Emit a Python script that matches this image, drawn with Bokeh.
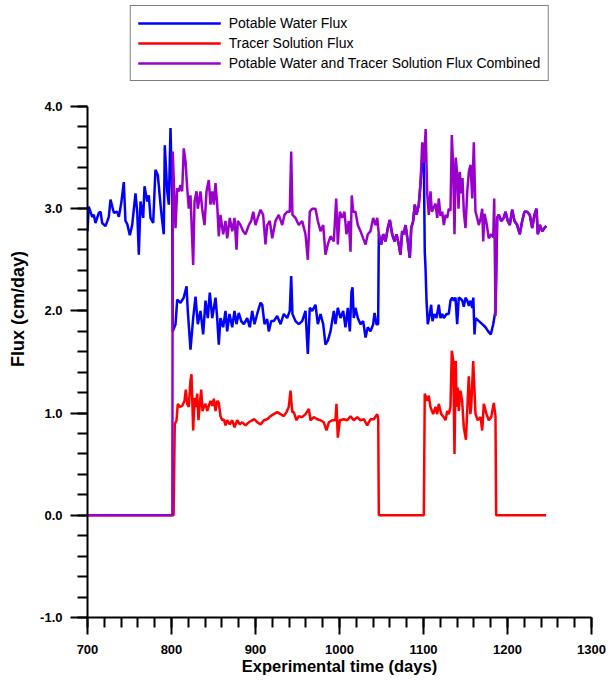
from bokeh.plotting import figure
from bokeh.models import (Range1d, SingleIntervalTicker, PrintfTickFormatter,
                          Legend, LegendItem, ColumnDataSource)
from bokeh.embed import file_html
from bokeh.resources import INLINE

# ---------------- data ----------------
# Potable water flux, own readings 700-1046 d
blue_a_days = [700, 701.5, 705.6, 707.5, 709.5, 713.5, 715.5, 717.5, 721.4, 725.4, 727.4,
               731.3, 735.4, 737.3, 740.1, 743.2, 745.2, 747.3, 750.4, 753.2, 757.1,
               759.2, 761.1, 763.1, 766.3, 767.9, 771.1, 773, 775, 778.2, 780.9, 783.7,
               786.9, 788.9, 790.8, 792, 794.9, 796.8, 798.8, 800.8,
               801.5, 804.8, 806.8, 810.7, 814.6, 817.9, 819.4, 822.6, 825.8, 828.6,
               831.3, 834.5, 837.7, 840.5, 843.2, 845.6, 848.5, 852.4, 854.4, 856.3,
               858.3, 861.5, 864.3, 866.3, 869, 872.3, 875, 877.4, 880.1, 883, 886.1,
               890.1, 893.2, 896.1, 898.8, 902, 906, 908, 910.7, 913.9, 915.8, 918.7,
               921.8, 925.8, 929.8, 933.7, 937.7, 940.8, 942.5, 944, 947.6, 951.5,
               955.6, 959.5, 962.3, 964.6, 967.5, 971.4, 974.2, 977.4, 980.6, 983.3,
               986.1, 989.3, 993.2, 995.2, 998, 1001.2, 1004.4, 1007.1, 1009.9, 1012.3,
               1014.3, 1015.5, 1017, 1019, 1021.8, 1025, 1028.2, 1031, 1033.7, 1036.9,
               1040.1, 1041.7, 1044, 1046]
blue_a_vals = [2.78, 3.02, 2.92, 2.94, 2.86, 2.96, 2.97, 2.86, 2.83, 2.92, 3.09,
               2.96, 2.97, 2.92, 3.05, 3.26, 2.88, 2.85, 2.74, 2.84, 3.15,
               2.97, 2.55, 3.07, 2.91, 3.22, 3.07, 3.13, 2.91, 2.86, 3.38, 3.33,
               3.04, 2.88, 2.75, 3.62, 3.17, 3.04, 3.79, 3.14,
               1.80, 1.87, 2.11, 2.08, 2.13, 2.24, 2.00, 1.62, 1.93, 2.14,
               1.87, 2.00, 1.77, 2.10, 1.93, 2.18, 1.93, 2.13, 1.93, 1.67,
               1.93, 1.84, 2.00, 1.80, 1.97, 1.84, 2.00, 1.87, 1.98, 1.90, 1.87,
               1.93, 1.84, 2.00, 1.87, 1.97, 2.08, 2.06, 1.87, 1.92, 1.80, 1.90,
               1.90, 1.95, 1.87, 1.97, 1.93, 2.00, 2.34, 1.97, 1.90, 1.87,
               1.90, 2.00, 1.58, 2.03, 2.00, 2.06, 1.87, 1.97, 1.87, 1.67,
               1.71, 1.80, 2.00, 1.87, 2.03, 1.93, 2.00, 1.84, 2.03, 1.80,
               2.19, 2.23, 1.93, 2.03, 1.93, 1.87, 1.90, 1.74, 1.84, 1.80,
               1.87, 1.98, 1.87, 1.87]
# Potable water flux, own readings 1098-1186 d
blue_b_days = [1098.5, 1100.4, 1101.5, 1102.4, 1103.6, 1105.1, 1107.5, 1109.1, 1110.7,
               1113.1, 1115.5, 1118.2, 1120.2, 1122.3, 1124.2, 1127.4, 1130.1, 1132.1,
               1134.2, 1136.1, 1138.1, 1140.1, 1142, 1144.1, 1146.2, 1148, 1150, 1152.1,
               1154, 1156, 1158.1, 1159.3, 1160.7, 1162, 1166, 1170, 1173.8, 1177,
               1180.1, 1183, 1185, 1185.7]
blue_b_vals = [3.49, 3.46, 2.58, 2.42, 2.10, 1.87, 1.97, 2.06, 1.90,
               1.97, 1.93, 2.06, 1.93, 1.97, 1.93, 1.97, 1.97, 2.10,
               2.13, 2.10, 2.13, 1.87, 2.13, 2.12, 2.10, 2.04, 2.13, 2.10,
               2.05, 2.10, 2.03, 2.13, 1.77, 1.93, 1.90, 1.87, 1.84, 1.80,
               1.77, 1.87, 1.97, 2.00]

# Tracer solution flux
red_days = [700, 802.5, 803.9, 806, 807.5, 809.9, 812.7, 815.5, 817, 818.7, 820.6,
            822.6, 823.8, 825.8, 827.4, 829, 830.6, 832.1, 833.7, 835.4, 836.9,
            838.5, 840.5, 842.5, 844.4, 846.4, 848.5, 850.4, 852.4, 854.4, 856.3,
            858.3, 860.4, 862.3, 864.3, 866.3, 869.4, 872.3, 875, 878.2, 881.3,
            884.2, 888.1, 892, 896.1, 898.8, 902, 906, 910, 913.9, 917.9, 921.8,
            925.8, 929.8, 933.7, 936.9, 939.6, 941.7, 943.7, 945.6, 948.8, 951.5,
            955.6, 959.5, 963.5, 965.5, 969.4, 973.5, 977.4, 981.3, 984.5, 987.3,
            991.3, 995.2, 996.4, 998, 1000.4, 1005.1, 1009.2, 1013.1, 1017, 1021.1,
            1025, 1028.9, 1033, 1036.9, 1040.8, 1044.9, 1046.1, 1046.8,
            1100.4, 1101.5, 1104.4, 1106.3, 1108.3, 1111.5, 1114.3, 1116.3, 1118.2,
            1121.1, 1124.2, 1126.2, 1128.2, 1130.1, 1132.1, 1133.7, 1135.4, 1136.9,
            1138.4, 1139.3, 1140.8, 1142, 1144, 1146, 1148, 1150.5, 1153.9, 1155.8,
            1156.8, 1159.2, 1161.9, 1164.6, 1167.9, 1169.9, 1171.8, 1175, 1177.7,
            1180.6, 1183.7, 1185.7, 1186.5, 1246]
red_vals = [0, 0, 0.89, 0.93, 1.09, 1.06, 1.07, 1.12, 1.23, 1.09, 1.06,
            1.32, 1.38, 0.83, 1.15, 1.06, 1.19, 0.93, 1.09, 1.23, 1.02,
            1.06, 1.09, 1.02, 1.07, 1.12, 1.07, 1.14, 1.02, 1.12, 1.10,
            0.97, 0.93, 0.94, 0.88, 0.93, 0.89, 0.93, 0.86, 0.93, 0.89,
            0.91, 0.88, 0.91, 0.93, 0.94, 0.91, 0.89, 0.93, 0.94, 0.97, 0.99,
            1.01, 0.99, 0.97, 1.01, 1.06, 1.22, 1.01, 1.01, 0.93, 0.97,
            0.96, 0.99, 1.04, 0.93, 0.96, 0.94, 0.93, 0.91, 0.83, 0.91,
            0.93, 0.93, 1.09, 0.76, 0.93, 0.94, 0.93, 0.97, 0.93, 0.96,
            0.93, 0.94, 0.88, 0.94, 0.94, 0.99, 0.94, 0,
            0, 1.19, 1.12, 1.17, 1.06, 0.99, 1.06, 0.99, 1.09,
            0.99, 0.96, 0.93, 1.02, 0.99, 1.06, 1.61, 1.51, 0.60,
            1.51, 1.06, 1.25, 1.02, 1.22, 1.12, 0.86, 0.74, 1.36, 0.99,
            1.06, 1.51, 0.99, 0.93, 0.96, 0.83, 1.09, 0.99, 0.93,
            0.96, 1.10, 0.97, 0, 0]

# Potable water and tracer solution flux combined
purple_days = [700, 801, 801.5, 804.8, 806.8, 808.7, 810.7, 812.7, 814.6, 816.7, 818.7,
               820.6, 822.6, 825.8, 827.4, 829.8, 831.3, 834.5, 836.5, 839.3, 841.7,
               844.4, 846.4, 848.5, 850.4, 852.4, 854.4, 856.3, 858.3, 861.5, 864.3,
               866.3, 869.4, 872.3, 875, 877.4, 878.9, 882.1, 885.3, 888.1, 892,
               894.9, 897.3, 900, 902.7, 906, 909.1, 911.9, 913.9, 917, 919.9, 923.8,
               927.7, 931.8, 934.5, 937.7, 940.8, 942.5, 944, 947.6, 951.5, 955.6,
               959.5, 962.3, 964.6, 967.5, 971.4, 974.2, 977.4, 980.6, 983.3, 986.1,
               989.3, 993.2, 996.1, 998, 1000.4, 1003.2, 1005.9, 1008.3, 1011.1, 1013.1,
               1014.6, 1016.3, 1019, 1021.8, 1025, 1028.2, 1031, 1033.7, 1036.9, 1040.1,
               1042.9, 1044.9, 1046.8, 1049.6, 1052, 1054.8, 1057.5, 1059.9, 1062.7,
               1065.5, 1067.9, 1070.6, 1072.6, 1074.6, 1076.5, 1078.6, 1081.3, 1083.7,
               1085.4, 1087.7, 1089.6, 1091.7, 1094.4, 1096.4, 1098.5, 1100.4, 1101.6,
               1102.6, 1104.4, 1106.3, 1108.3, 1110, 1111.5, 1114.3, 1116.3, 1118.2,
               1120.2, 1122.3, 1124.2, 1126.2, 1128.2, 1130.1, 1132.1, 1133.7, 1135.4,
               1136.9, 1138.4, 1140.1, 1141.7, 1143.2, 1144.9, 1146.4, 1148, 1150,
               1152.1, 1154, 1156, 1158, 1159.9, 1161.9, 1163.9, 1165.8, 1167.9, 1169.9,
               1171.1, 1172.6, 1175, 1177.7, 1180.6, 1183, 1184.2, 1185.7, 1187.7,
               1189.6, 1192.5, 1195.6, 1197.6, 1200.4, 1202.7, 1205.6, 1208.3, 1211.5,
               1214.6, 1217.5, 1220.2, 1223.4, 1226.5, 1229.4, 1232.1, 1234.5, 1236.1,
               1238.5, 1241.3, 1244, 1246]
purple_vals = [0, 0, 3.56, 2.81, 3.20, 3.17, 3.23, 3.17, 3.59, 3.46, 3.20,
               3.00, 3.13, 2.45, 3.07, 3.17, 3.00, 3.17, 3.00, 2.84, 3.17,
               3.28, 3.04, 3.17, 3.04, 3.25, 3.04, 2.73, 2.94, 2.75, 2.88,
               2.71, 2.91, 2.78, 2.91, 2.60, 2.88, 2.84, 2.78, 2.75, 2.84,
               2.88, 2.97, 2.84, 2.91, 2.99, 2.94, 2.65, 2.84, 2.88, 2.71, 2.88,
               2.94, 2.84, 2.94, 2.97, 2.97, 3.56, 2.94, 2.91, 2.84, 2.88,
               2.75, 2.50, 2.97, 3.00, 3.00, 2.88, 2.78, 2.84, 2.55, 2.65,
               2.73, 2.68, 3.10, 2.65, 2.97, 2.91, 2.97, 2.75, 2.88, 2.58,
               3.13, 2.97, 2.97, 2.84, 2.78, 2.71, 2.65, 2.75, 2.78, 2.91,
               2.84, 2.91, 2.75, 2.65, 2.75, 2.68, 2.81, 2.89, 2.75,
               2.68, 2.75, 2.65, 2.55, 2.78, 2.75, 2.84, 2.68, 2.52,
               2.81, 2.88, 3.04, 2.94, 3.04, 3.24, 3.65, 3.45, 3.62,
               3.78, 3.15, 2.94, 3.17, 2.97, 3.00, 3.05, 2.91, 3.10,
               2.93, 2.97, 2.84, 2.94, 2.91, 3.00, 2.98, 3.72, 3.40,
               2.75, 3.50, 3.33, 3.00, 3.36, 3.15, 3.30, 2.97, 2.81,
               3.17, 3.36, 3.43, 3.10, 3.65, 2.97, 2.91, 2.84, 2.90, 3.00,
               2.68, 2.95, 2.86, 2.71, 2.75, 2.72, 3.10, 1.95, 2.91,
               2.94, 2.88, 2.91, 2.97, 2.88, 2.84, 2.99, 2.88, 2.84,
               2.75, 2.88, 2.97, 2.97, 2.94, 2.81, 2.94, 3.00, 2.75,
               2.84, 2.78, 2.81, 2.83]

series_labels = ["Potable Water Flux", "Tracer Solution Flux",
                 "Potable Water and Tracer Solution Flux Combined"]
series_colors = ["#0000FF", "#FF0000", "#9900CC"]

# While no tracer flows, the potable flux equals the combined flux (hidden under it)
blue_days, blue_vals = list(blue_a_days), list(blue_a_vals)
for d, v in zip(purple_days, purple_vals):
    if 1046.5 < d < 1097:
        blue_days.append(d); blue_vals.append(v)
blue_days += blue_b_days
blue_vals += blue_b_vals
for d, v in zip(purple_days, purple_vals):
    if d > 1186:
        blue_days.append(d); blue_vals.append(v)

# ---------------- figure ----------------
FONT = "Liberation Sans"
W, H = 613, 681
B_LEFT, B_RIGHT, B_BOTTOM = 87, 22, 64
Y_LO, Y_HI = -1.0, 4.0
# the frame reaches the top of the canvas so that the legend can sit above y = 4
frame_h = H - B_BOTTOM
px_per_unit = 511.0 / (Y_HI - Y_LO)
y_top = Y_LO + frame_h / px_per_unit

p = figure(width=W, height=H, output_backend="svg", toolbar_location=None,
           x_range=Range1d(700, 1300), y_range=Range1d(Y_LO, y_top),
           min_border_left=B_LEFT, min_border_right=B_RIGHT, min_border_top=0,
           min_border_bottom=B_BOTTOM)
p.xgrid.visible = False
p.ygrid.visible = False
p.outline_line_color = None
p.background_fill_color = "white"
p.border_fill_color = "white"

p.xaxis.ticker = SingleIntervalTicker(interval=100, num_minor_ticks=5)
p.yaxis.ticker = SingleIntervalTicker(interval=1, num_minor_ticks=5)
p.yaxis.formatter = PrintfTickFormatter(format="%.1f")
p.yaxis.bounds = (Y_LO, Y_HI)
p.xaxis.axis_label = "Experimental time (days)"
p.yaxis.axis_label = "Flux (cm/day)"

for ax in (p.xaxis[0], p.yaxis[0]):
    ax.axis_line_width = 2
    ax.axis_line_color = "black"
    ax.major_tick_line_width = 2
    ax.minor_tick_line_width = 2
    ax.major_tick_line_color = "black"
    ax.minor_tick_line_color = "black"
    ax.major_tick_in = 0
    ax.major_tick_out = 17
    ax.minor_tick_in = 0
    ax.minor_tick_out = 10
    ax.major_label_text_font = FONT
    ax.major_label_text_font_style = "bold"
    ax.major_label_text_font_size = "13px"
    ax.major_label_text_color = "black"
    ax.axis_label_text_font = FONT
    ax.axis_label_text_font_style = "bold"
    ax.axis_label_text_color = "black"

p.xaxis.major_label_standoff = 10
p.xaxis.axis_label_standoff = 0
p.xaxis.axis_label_text_font_size = "16.5px"
p.yaxis.major_label_standoff = 8
p.yaxis.axis_label_standoff = 9
p.yaxis.axis_label_text_font_size = "18px"

src_b = ColumnDataSource(dict(x=blue_days, y=blue_vals))
src_r = ColumnDataSource(dict(x=red_days, y=red_vals))
src_p = ColumnDataSource(dict(x=purple_days, y=purple_vals))

LW = 2.5
rb = p.line("x", "y", source=src_b, line_color=series_colors[0], line_width=LW)
rr = p.line("x", "y", source=src_r, line_color=series_colors[1], line_width=LW)
rp = p.line("x", "y", source=src_p, line_color=series_colors[2], line_width=LW)

legend = Legend(items=[LegendItem(label=series_labels[0], renderers=[rb]),
                       LegendItem(label=series_labels[1], renderers=[rr]),
                       LegendItem(label=series_labels[2], renderers=[rp])],
                location="top_center", orientation="vertical",
                border_line_color="black", border_line_width=1,
                background_fill_color="white", background_fill_alpha=1,
                padding=7, spacing=0, margin=5,
                glyph_width=83, glyph_height=20, label_height=20, label_standoff=8,
                label_text_font=FONT, label_text_font_size="14px",
                label_text_color="black")
p.add_layout(legend)

open("out.html", "w").write(file_html(p, INLINE))
